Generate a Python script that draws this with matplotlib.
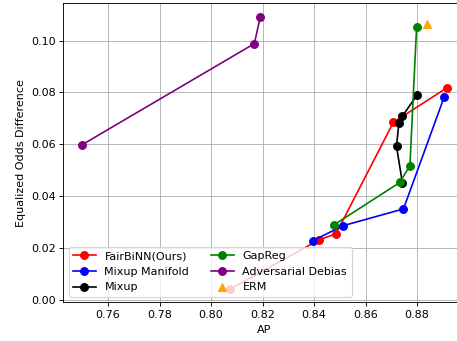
import numpy as np
import matplotlib
matplotlib.use("Agg")
import matplotlib.pyplot as plt

# Valores (AP, Equalized Odds Difference)
fairbinn_ap = [0.8075, 0.8420, 0.8485, 0.8708, 0.8915]
fairbinn_eod = [0.0043, 0.0232, 0.0255, 0.0685, 0.0817]

manifold_ap = [0.8394, 0.8512, 0.8747, 0.8905]
manifold_eod = [0.0228, 0.0286, 0.0351, 0.0782]

mixup_ap = [0.8743, 0.8720, 0.8729, 0.8743, 0.8800]
mixup_eod = [0.0450, 0.0592, 0.0681, 0.0709, 0.0790]

gapreg_ap = [0.8478, 0.8733, 0.8772, 0.8798]
gapreg_eod = [0.0290, 0.0453, 0.0518, 0.1052]

adv_ap = [0.7497, 0.8168, 0.8191]
adv_eod = [0.0597, 0.0988, 0.1091]

erm_ap = [0.8838]
erm_eod = [0.1062]

dpi = 80
fig = plt.figure(figsize=(457 / dpi, 341 / dpi), dpi=dpi)
ax = fig.add_axes([0.1385, 0.1132, 0.879, 0.8771])

ax.plot(fairbinn_ap, fairbinn_eod, marker='o', ms=7, color='red', label='FairBiNN(Ours)')
ax.plot(manifold_ap, manifold_eod, marker='o', ms=7, color='blue', label='Mixup Manifold')
ax.plot(mixup_ap, mixup_eod, marker='o', ms=7, color='black', label='Mixup')
ax.plot(gapreg_ap, gapreg_eod, marker='o', ms=7, color='green', label='GapReg')
ax.plot(adv_ap, adv_eod, marker='o', ms=7, color='purple', label='Adversarial Debias')
ax.plot(erm_ap, erm_eod, marker='^', ms=7, color='orange', linestyle='none', label='ERM')

ax.set_xlabel('AP')
ax.set_ylabel('Equalized Odds Difference')
ax.grid(True)
ax.legend(loc='lower left', ncol=2)

fig.savefig('out.png', dpi=dpi)
